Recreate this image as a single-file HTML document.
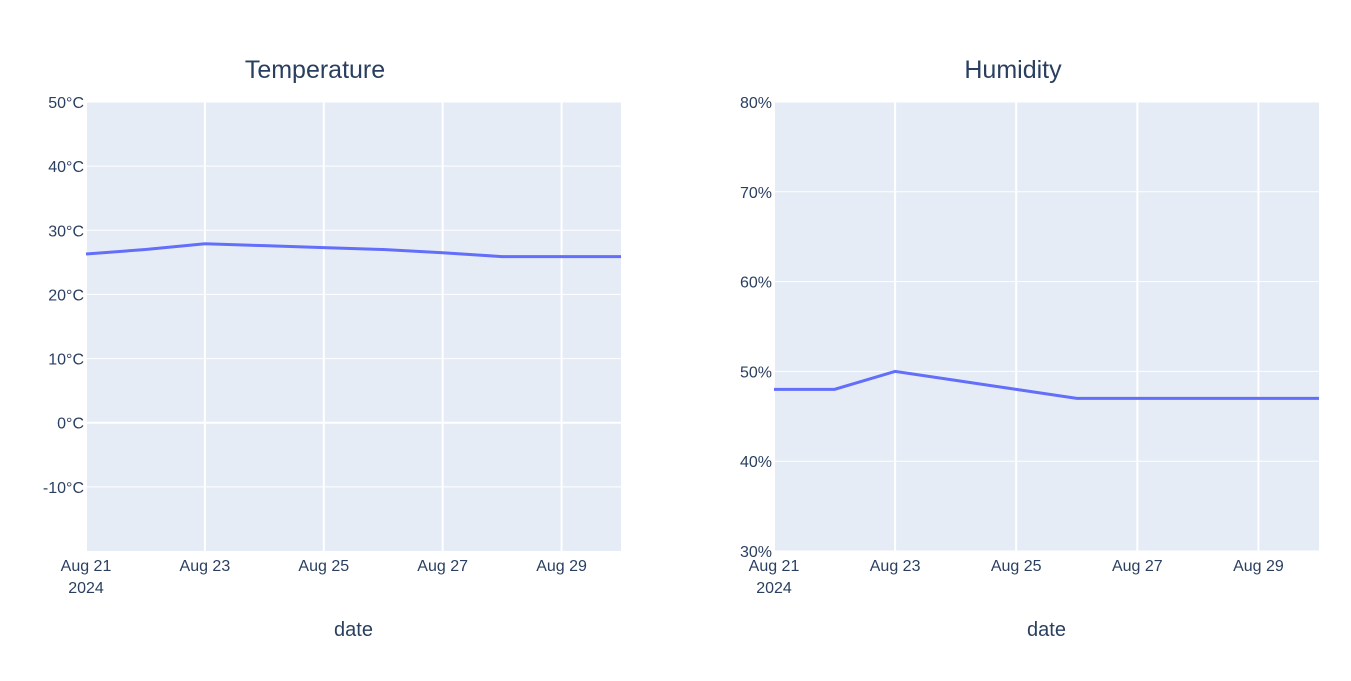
<!DOCTYPE html>
<html><head><meta charset="utf-8"><style>
body{margin:0;background:#fff;font-family:"Liberation Sans",sans-serif}
</style></head><body>
<svg id="c" width="1351" height="676" xmlns="http://www.w3.org/2000/svg"></svg>
<script>
const dates=["Aug 21","Aug 22","Aug 23","Aug 24","Aug 25","Aug 26","Aug 27","Aug 28","Aug 29","Aug 30"];
const temperature=[26.3,27.0,27.9,27.6,27.3,27.0,26.5,25.9,25.9,25.9];
const humidity=[48,48,50,49,48,47,47,47,47,47];
const tempTicks=[-10,0,10,20,30,40,50];
const humTicks=[30,40,50,60,70,80];
const xTickIdx=[0,2,4,6,8];
const svg=document.getElementById('c');
const NS="http://www.w3.org/2000/svg";
function mk(t,a,txt){const e=document.createElementNS(NS,t);for(const k in a)e.setAttribute(k,a[k]);if(txt!==undefined)e.textContent=txt;svg.appendChild(e);return e;}
function panel(p){
  const X=i=>p.x0+(p.x1-p.x0)*i/(dates.length-1);
  const Y=v=>p.y1-(p.y1-p.y0)*(v-p.min)/(p.max-p.min);
  let e=mk('rect',{x:p.x0,y:p.y0,width:p.x1-p.x0,height:p.y1-p.y0,fill:'#e5ecf6'});
  
  xTickIdx.forEach(i=>{mk('line',{x1:X(i),x2:X(i),y1:p.y0,y2:p.y1,stroke:'#fff','stroke-width':2});
    e=mk('text',{x:X(i),y:p.y1+20,'text-anchor':'middle','font-size':16,fill:'#2a3f5f'},dates[i]);
    });
  e=mk('text',{x:X(0),y:p.y1+42,'text-anchor':'middle','font-size':16,fill:'#2a3f5f'},'2024');
  
  p.ticks.forEach(v=>{mk('line',{x1:p.x0,x2:p.x1,y1:Y(v),y2:Y(v),stroke:'#fff','stroke-width':v===0?2:1});
    e=mk('text',{x:p.x0-2,y:Y(v)+6,'text-anchor':'end','font-size':16,fill:'#2a3f5f'},p.fmt(v));
    });
  e=mk('polyline',{points:p.data.map((v,i)=>X(i)+','+Y(v)).join(' '),fill:'none',stroke:'#636efa','stroke-width':3});
  
  e=mk('text',{x:p.tc,y:78,'text-anchor':'middle','font-size':25,fill:'#2a3f5f'},p.title);
  
  e=mk('text',{x:(p.x0+p.x1)/2,y:636,'text-anchor':'middle','font-size':20,fill:'#2a3f5f'},'date');
  
}
panel({name:'temperature',x0:86,x1:621,y0:102,y1:551,min:-20,max:50,ticks:tempTicks,data:temperature,title:'Temperature',tc:315,fmt:v=>v+'°C'});
panel({name:'humidity',x0:774,x1:1319,y0:102,y1:551,min:30,max:80,ticks:humTicks,data:humidity,title:'Humidity',tc:1013,fmt:v=>v+'%'});
</script>
</body></html>
